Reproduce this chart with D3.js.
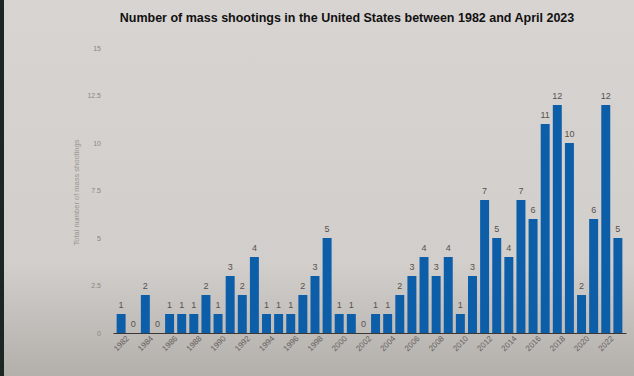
<!DOCTYPE html>
<html>
<head>
<meta charset="utf-8">
<script src="https://cdn.jsdelivr.net/npm/d3@7"></script>
<style>
  body { margin: 0; background: #d4d0cc; }
  svg { display: block; }
</style>
</head>
<body>
<svg id="chart"></svg>
<script>
// data
const years = d3.range(1982, 2024);
const shootings = [1, 0, 2, 0, 1, 1, 1, 2, 1, 3, 2, 4, 1, 1, 1, 2, 3, 5, 1, 1, 0, 1, 1, 2, 3, 4, 3, 4, 1, 3, 7, 5, 4, 7, 6, 11, 12, 10, 2, 6, 12, 5];
const yTicks = [0, 2.5, 5, 7.5, 10, 12.5, 15];

const W = 634, H = 376;
const margin = { top: 48, right: 6, bottom: 43, left: 113 };

const svg = d3.select('#chart').attr('width', W).attr('height', H);

// background, photo of a screen
const defs = svg.append('defs');
const bg = defs.append('linearGradient').attr('id', 'bg').attr('x1', 0).attr('y1', 0).attr('x2', 0).attr('y2', 1);
bg.append('stop').attr('offset', '0%').attr('stop-color', '#d8d4d1');
bg.append('stop').attr('offset', '70%').attr('stop-color', '#d2cecb');
bg.append('stop').attr('offset', '100%').attr('stop-color', '#b3afab');
svg.append('rect').attr('width', W).attr('height', H).attr('fill', 'url(#bg)');
svg.append('rect').attr('width', 4).attr('height', H).attr('fill', '#1c2624');

const x = d3.scaleBand()
    .domain(years)
    .range([margin.left, W - margin.right - 2])
    .paddingInner(0.26)
    .paddingOuter(0.3);

const y = d3.scaleLinear()
    .domain([0, 15])
    .range([H - margin.bottom, margin.top]);

// y axis labels
svg.append('g')
    .attr('transform', `translate(${margin.left - 9},0)`)
    .call(d3.axisLeft(y).tickValues(yTicks).tickSize(0).tickFormat(d3.format('')))
    .call(g => g.select('.domain').remove())
    .call(g => g.selectAll('text')
        .attr('fill', '#8a8683')
        .attr('font-family', 'Liberation Sans, Arial, sans-serif')
        .attr('font-size', 7));

svg.append('text')
    .attr('transform', `translate(79,${y(7.5) + 2}) rotate(-90)`)
    .attr('text-anchor', 'middle')
    .attr('fill', '#9a9693')
    .attr('font-family', 'Liberation Sans, Arial, sans-serif')
    .attr('font-size', 7.5)
    .text('Total number of mass shootings');

// bars
svg.append('g')
    .selectAll('rect')
    .data(shootings)
    .join('rect')
    .attr('x', (d, i) => x(years[i]))
    .attr('y', d => y(d))
    .attr('width', x.bandwidth())
    .attr('height', d => y(0) - y(d))
    .attr('fill', '#0d5ea9');

// value labels
svg.append('g')
    .selectAll('text')
    .data(shootings)
    .join('text')
    .attr('x', (d, i) => x(years[i]) + x.bandwidth() / 2)
    .attr('y', d => y(d) - 6)
    .attr('text-anchor', 'middle')
    .attr('fill', '#55524f')
    .attr('font-family', 'Liberation Sans, Arial, sans-serif')
    .attr('font-size', 9)
    .text(d => d);

// x axis
svg.append('g')
    .attr('transform', `translate(0,${y(0)})`)
    .call(d3.axisBottom(x).tickValues(years.filter(v => v % 2 === 0)).tickSize(0))
    .call(g => g.select('.domain').attr('stroke', '#3a3836').attr('stroke-width', 1.2))
    .call(g => g.selectAll('text')
        .attr('fill', '#66625f')
        .attr('font-family', 'Liberation Sans, Arial, sans-serif')
        .attr('font-size', 8)
        .attr('text-anchor', 'end')
        .attr('dx', '0.2em')
        .attr('dy', '0.9em')
        .attr('transform', 'rotate(-45)'));

// title
svg.append('text')
    .attr('x', 347)
    .attr('y', 22)
    .attr('text-anchor', 'middle')
    .attr('fill', '#111')
    .attr('font-family', 'Liberation Sans, Arial, sans-serif')
    .attr('font-weight', 'bold')
    .attr('font-size', 12.5)
    .text('Number of mass shootings in the United States between 1982 and April 2023');
</script>
</body>
</html>
